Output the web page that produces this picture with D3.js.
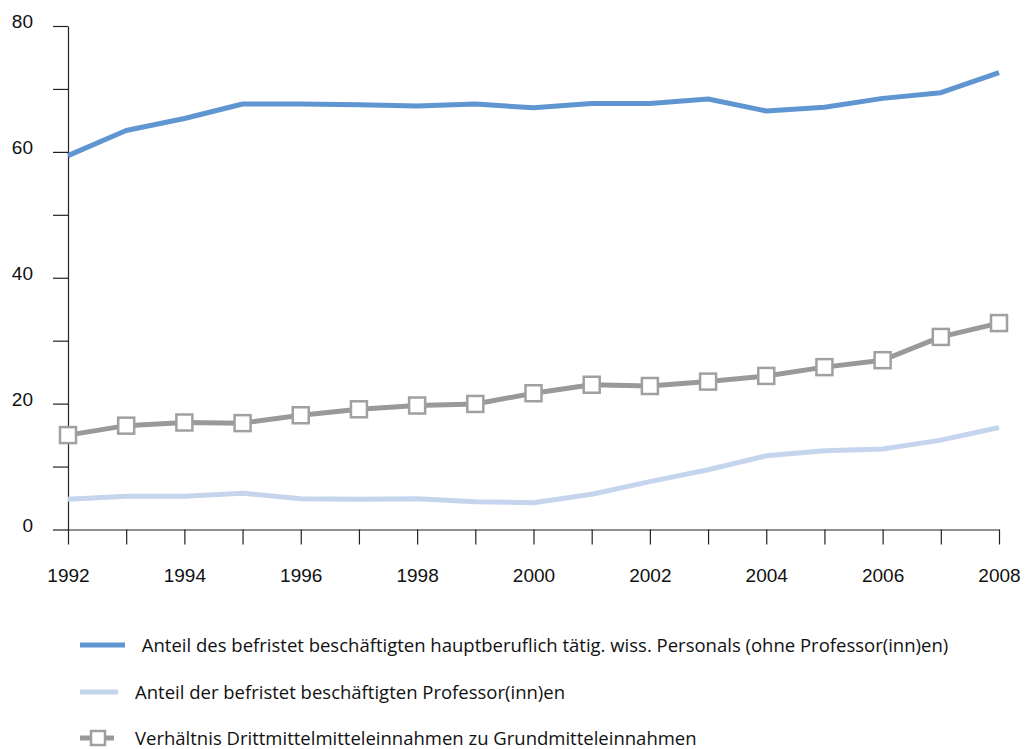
<!DOCTYPE html>
<html lang="de">
<head>
<meta charset="UTF-8">
<title>Befristete Beschäftigung</title>
<script src="https://d3js.org/d3.v7.min.js"></script>
<style>
    body { margin: 0; background: #fff; }
    svg { font-family: "Open Sans", sans-serif; }
    .axis path, .axis line { stroke: #222; stroke-width: 1.2px; }
    .axis text { font-size: 19px; fill: #111; }
    .legend text { font-size: 18.5px; fill: #111; }
</style>
</head>
<body>
<svg id="chart" width="1031" height="749"></svg>
<script>
    // data
    const years = [1992, 1993, 1994, 1995, 1996, 1997, 1998, 1999, 2000, 2001, 2002, 2003, 2004, 2005, 2006, 2007, 2008];
    const wissPersonal = [59.4, 63.4, 65.3, 67.6, 67.6, 67.5, 67.3, 67.6, 67.0, 67.7, 67.7, 68.4, 66.5, 67.1, 68.5, 69.4, 72.6];
    const professoren = [4.8, 5.3, 5.3, 5.75, 4.9, 4.8, 4.9, 4.4, 4.25, 5.6, 7.6, 9.5, 11.7, 12.5, 12.8, 14.2, 16.2];
    const drittmittel = [15.0, 16.5, 17.0, 16.9, 18.15, 19.1, 19.7, 19.95, 21.65, 23.0, 22.8, 23.5, 24.4, 25.8, 26.9, 30.6, 32.8];
    const yTicks = [0, 10, 20, 30, 40, 50, 60, 70, 80];
    const legendLabels = [
        " Anteil des befristet beschäftigten hauptberuflich tätig. wiss. Personals (ohne Professor(inn)en)",
        "Anteil der befristet beschäftigten Professor(inn)en",
        "Verhältnis Drittmittelmitteleinnahmen zu Grundmitteleinnahmen"
    ];

    const svg = d3.select('#chart');
    const plot = { left: 68, right: 999, top: 26, bottom: 529.5 };

    const x = d3.scaleLinear().domain([1992, 2008]).range([plot.left, plot.right]);
    const y = d3.scaleLinear().domain([0, 80]).range([plot.bottom, plot.top]);

    // axes
    let yAxis = d3.axisLeft(y)
        .tickValues(yTicks)
        .tickSize(15)
        .tickSizeOuter(0)
        .tickPadding(20)
        .tickFormat(d => d % 20 === 0 ? d : '');
    svg.append('g')
        .attr('class', 'axis y')
        .attr('transform', `translate(${plot.left},0)`)
        .call(yAxis)
        .selectAll('text').attr('dy', '0.1em');

    let xAxis = d3.axisBottom(x)
        .tickValues(years)
        .tickSize(15)
        .tickSizeOuter(0)
        .tickPadding(24)
        .tickFormat(d => d % 2 === 0 ? d : '');
    svg.append('g')
        .attr('class', 'axis x')
        .attr('transform', `translate(0,${plot.bottom})`)
        .call(xAxis);

    const series = [
        { values: wissPersonal, color: '#5f96d2', marker: false },
        { values: professoren, color: '#c6d5ee', marker: false },
        { values: drittmittel, color: '#999999', marker: true }
    ];

    let line = d3.line()
        .x((d, i) => x(years[i]))
        .y(d => y(d));

    series.forEach(s => {
        svg.append('path')
            .datum(s.values)
            .attr('fill', 'none')
            .attr('stroke', s.color)
            .attr('stroke-width', 5)
            .attr('stroke-linejoin', 'round')
            .attr('d', line);
        if (s.marker) {
            svg.selectAll(null)
                .data(s.values)
                .join('rect')
                .attr('x', (d, i) => x(years[i]) - 8)
                .attr('y', d => y(d) - 8)
                .attr('width', 16)
                .attr('height', 16)
                .attr('fill', '#fff')
                .attr('stroke', '#a0a0a0')
                .attr('stroke-width', 2.5);
        }
    });

    // legend
    const legendY = [645, 692, 738];
    let legend = svg.append('g').attr('class', 'legend');

    legend.append('line')
        .attr('x1', 80).attr('x2', 125)
        .attr('y1', legendY[0]).attr('y2', legendY[0])
        .attr('stroke', series[0].color).attr('stroke-width', 5);
    legend.append('line')
        .attr('x1', 80).attr('x2', 118)
        .attr('y1', legendY[1]).attr('y2', legendY[1])
        .attr('stroke', series[1].color).attr('stroke-width', 5);
    legend.append('line')
        .attr('x1', 80).attr('x2', 114)
        .attr('y1', legendY[2]).attr('y2', legendY[2])
        .attr('stroke', series[2].color).attr('stroke-width', 5);
    legend.append('rect')
        .attr('x', 91).attr('y', legendY[2] - 7)
        .attr('width', 14).attr('height', 14)
        .attr('fill', '#fff').attr('stroke', '#a0a0a0').attr('stroke-width', 2.5);

    legend.selectAll('text')
        .data(legendLabels)
        .join('text')
        .attr('x', (d, i) => i === 0 ? 137 : 135)
        .attr('y', (d, i) => legendY[i] + 7)
        .attr('xml:space', 'preserve')
        .style('white-space', 'pre')
        .text(d => d);
</script>
</body>
</html>
